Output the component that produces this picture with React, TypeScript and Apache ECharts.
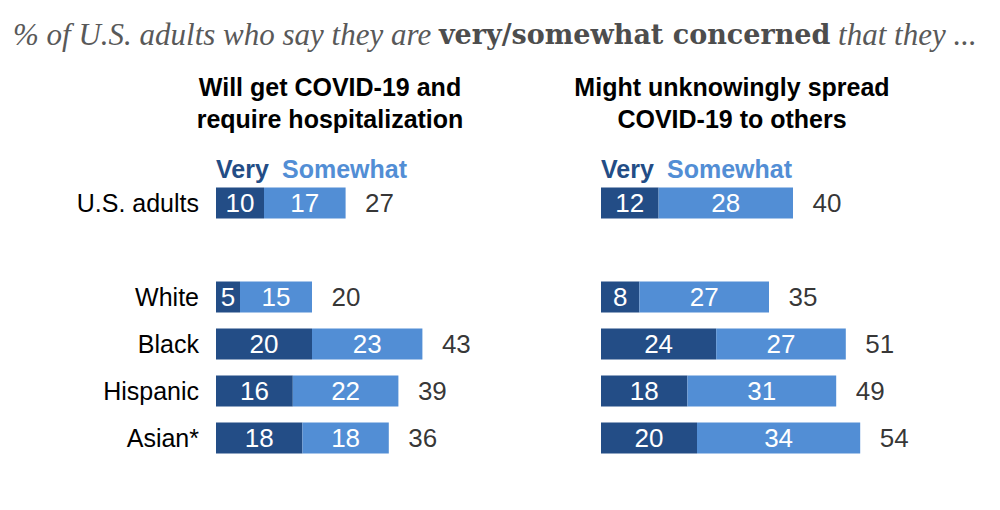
import React, { useEffect, useRef } from "react";
import * as echarts from "echarts";

const categories = ["U.S. adults", "", "White", "Black", "Hispanic", "Asian*"];
const hospVery = [10, null, 5, 20, 16, 18];
const hospSomewhat = [17, null, 15, 23, 22, 18];
const hospTotal = [27, null, 20, 43, 39, 36];
const spreadVery = [12, null, 8, 24, 18, 20];
const spreadSomewhat = [28, null, 27, 27, 31, 34];
const spreadTotal = [40, null, 35, 51, 49, 54];
const panelTitles = ["Will get COVID-19 and\nrequire hospitalization", "Might unknowingly spread\nCOVID-19 to others"];
const seriesNames = ["Very", "Somewhat"];

const DARK = "#234d86";
const LIGHT = "#528ed5";
const FONT = "'Liberation Sans', Arial, sans-serif";

export default function App() {
  const ref = useRef<HTMLDivElement>(null);
  useEffect(() => {
    document.body.style.margin = "0";
    const chart = echarts.init(ref.current!, null, { renderer: "svg" });
    const gridLeft = [216, 601];
    const barLabel = {
      show: true,
      position: "inside",
      color: "#fff",
      fontSize: 26,
      fontFamily: FONT,
    };
    const makePanel = (idx: number, very: any[], some: any[], total: any[]) => [
      {
        name: seriesNames[0],
        type: "bar",
        stack: "s" + idx,
        xAxisIndex: idx,
        yAxisIndex: idx,
        barWidth: 31,
        data: very,
        itemStyle: { color: DARK },
        label: barLabel,
      },
      {
        name: seriesNames[1],
        type: "bar",
        stack: "s" + idx,
        xAxisIndex: idx,
        yAxisIndex: idx,
        barWidth: 31,
        data: some,
        itemStyle: { color: LIGHT },
        label: barLabel,
      },
      {
        type: "scatter",
        xAxisIndex: idx,
        yAxisIndex: idx,
        symbolSize: 1,
        itemStyle: { color: "rgba(0,0,0,0)" },
        data: total.map((t, i) =>
          t == null ? null : { value: [(very[i] as number) + (some[i] as number), categories[i]], total: t }
        ),
        label: {
          show: true,
          position: "right",
          distance: 19,
          color: "#000",
          fontSize: 26,
          fontFamily: FONT,
          formatter: (p: any) => String(p.data.total),
        },
      },
    ];
    chart.setOption({
      animation: false,
      backgroundColor: "#fff",
      title: {
        left: 8,
        top: 14,
        text: "% of U.S. adults who say they are {b|very/somewhat concerned} that they ...",
        textStyle: {
          fontFamily: "'Liberation Serif', 'DejaVu Serif', serif",
          fontStyle: "italic",
          fontWeight: "normal",
          fontSize: 31,
          color: "#595959",
          rich: {
            b: {
              fontFamily: "'DejaVu Serif', serif",
              fontStyle: "normal",
              fontWeight: "bold",
              fontSize: 27,
              color: "#4d4d4d",
            },
          },
        },
      },
      graphic: [
        ...panelTitles.map((t, i) => ({
          type: "text",
          x: [330, 732][i],
          y: 71,
          style: {
            text: t,
            fill: "#000",
            font: `bold 25px ${FONT}`,
            align: "center",
            lineHeight: 32,
          },
        })),
        ...gridLeft.flatMap((gl) => [
          {
            type: "text",
            x: gl,
            y: 156,
            style: { text: seriesNames[0], fill: DARK, font: `bold 25px ${FONT}` },
          },
          {
            type: "text",
            x: gl + 66,
            y: 156,
            style: { text: seriesNames[1], fill: LIGHT, font: `bold 25px ${FONT}` },
          },
        ]),
      ],
      grid: gridLeft.map((l) => ({ left: l, top: 179.5, width: 288, height: 282 })),
      xAxis: [0, 1].map((i) => ({
        type: "value",
        gridIndex: i,
        min: 0,
        max: 60,
        show: false,
      })),
      yAxis: [0, 1].map((i) => ({
        type: "category",
        gridIndex: i,
        data: categories,
        inverse: true,
        axisLine: { show: false },
        axisTick: { show: false },
        splitLine: { show: false },
        axisLabel: {
          show: i === 0,
          margin: 17,
          color: "#000",
          fontSize: 25,
          fontFamily: FONT,
        },
      })),
      series: [
        ...makePanel(0, hospVery, hospSomewhat, hospTotal),
        ...makePanel(1, spreadVery, spreadSomewhat, spreadTotal),
      ],
    });
    return () => chart.dispose();
  }, []);
  return <div ref={ref} style={{ width: 1000, height: 510 }} />;
}
